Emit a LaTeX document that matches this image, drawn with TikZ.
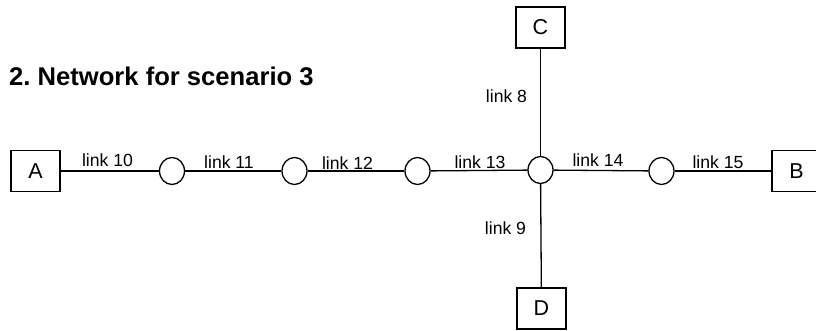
\documentclass[tikz,border=0pt]{standalone}
\usepackage{fontspec}
\setmainfont{Liberation Sans}
\usetikzlibrary{shapes.geometric}
\frenchspacing
\begin{document}
\begin{tikzpicture}[x=1pt,y=-1pt,
  endbox/.style={draw,line width=1.3pt,minimum width=49pt,minimum height=41pt,inner sep=0pt,font=\fontsize{21.5}{25}\selectfont},
  router/.style={draw,ellipse,line width=1.3pt,minimum width=25pt,minimum height=27pt,inner sep=0pt},
  linkline/.style={line width=1.3pt},
  lbl/.style={anchor=base,font=\fontsize{17.6}{21}\selectfont}]
\useasboundingbox (0,0) rectangle (816,330);
\clip (0,0) rectangle (816,330);
\node[anchor=base west,font=\fontsize{25.6}{30}\selectfont\bfseries,inner sep=0pt] (title) at (9,85) {2. Network for scenario 3};
\node[endbox] (A) at (35.5,171) {A};
\node[endbox] (B) at (796.5,171) {B};
\node[endbox] (C) at (540.5,27.5) {C};
\node[endbox] (D) at (541.5,308.5) {D};
\node[router] (r1) at (172,171) {};
\node[router] (r2) at (294.5,171) {};
\node[router] (r3) at (417.5,171) {};
\node[router] (hub) at (540.5,170) {};
\node[router] (r5) at (661.5,171) {};
\draw[linkline] (A) -- (r1);
\draw[linkline] (r1) -- (r2);
\draw[linkline] (r2) -- (r3);
\draw[linkline] (r3) -- (hub);
\draw[linkline] (hub) -- (r5);
\draw[linkline] (r5) -- (B);
\draw[linkline] (C) -- (hub);
\draw[linkline] (hub) -- (D);
\node[lbl] (l10) at (107.5,166) {link 10};
\node[lbl] (l11) at (229,168) {link 11};
\node[lbl] (l12) at (347.5,169) {link 12};
\node[lbl] (l13) at (480,168) {link 13};
\node[lbl] (l14) at (598,166) {link 14};
\node[lbl] (l15) at (718,168) {link 15};
\node[lbl] (l8) at (506.5,102) {link 8};
\node[lbl] (l9) at (505.5,234) {link 9};
\end{tikzpicture}
\end{document}
